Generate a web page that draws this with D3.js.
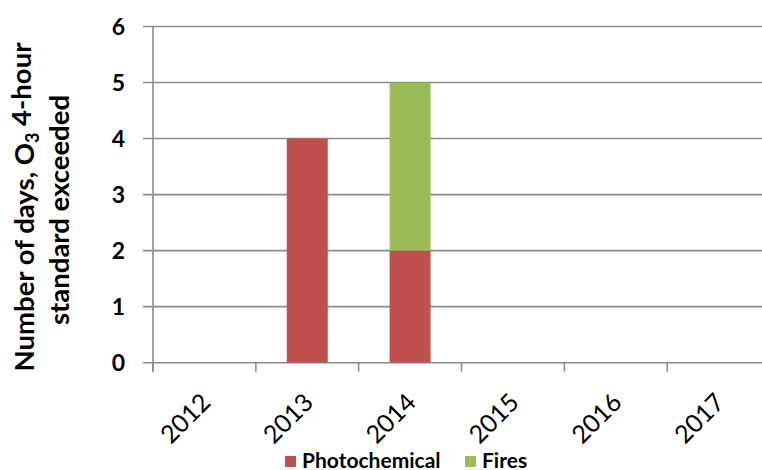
<!DOCTYPE html>
<html><head><meta charset="utf-8">
<script src="https://cdn.jsdelivr.net/npm/d3@7"></script>
<style>body{margin:0;background:#fff}svg{display:block}text{font-family:Lato,"Open Sans",sans-serif}</style>
</head><body>
<svg id="c" width="762" height="470"></svg>
<script>
const years = ["2012","2013","2014","2015","2016","2017"];
const photochemical = [0,4,2,0,0,0];
const fires = [0,0,3,0,0,0];
const seriesNames = ["Photochemical","Fires"];
const seriesColors = ["#C0504D","#9BBB59"];
const yTicks = [0,1,2,3,4,5,6];

const svg = d3.select("#c");
const W = 762;
const xb = d3.scaleBand().domain(years).range([153, 770]);
const y = d3.scaleLinear().domain([0,6]).range([362.7, 26.5]);

// gridlines
svg.append("g").selectAll("line").data(yTicks).join("line")
  .attr("x1",143).attr("x2",W).attr("y1",d=>y(d)).attr("y2",d=>y(d))
  .attr("stroke","#8C8C8C").attr("stroke-width",1.6);

// y axis line
svg.append("line").attr("x1",153).attr("x2",153).attr("y1",y(6)).attr("y2",y(0)+9)
  .attr("stroke","#8C8C8C").attr("stroke-width",1.6);

// x ticks
svg.append("g").selectAll("line").data(years).join("line")
  .attr("x1",d=>xb(d)).attr("x2",d=>xb(d)).attr("y1",y(0)).attr("y2",y(0)+9)
  .attr("stroke","#8C8C8C").attr("stroke-width",1.6);

// stacked data
const table = years.map((yr,i)=>({year:yr, Photochemical:photochemical[i], Fires:fires[i]}));
const stack = d3.stack().keys(seriesNames)(table);
const bw = 41;
svg.append("g").selectAll("g").data(stack).join("g")
  .attr("fill",(d,i)=>seriesColors[i])
  .selectAll("rect").data(d=>d.filter(p=>p[1]-p[0]>0)).join("rect")
  .attr("x",d=>xb(d.data.year)+xb.bandwidth()/2-bw/2)
  .attr("width",bw)
  .attr("y",d=>y(d[1]))
  .attr("height",d=>y(d[0])-y(d[1]));

// y tick labels
svg.append("g").selectAll("text").data(yTicks).join("text")
  .attr("x",125).attr("y",d=>y(d)).attr("dy","0.36em")
  .attr("text-anchor","end").attr("font-size",23).attr("font-weight","bold").attr("fill","#000")
  .text(d=>d);

// x tick labels
svg.append("g").selectAll("text").data(years).join("text")
  .attr("transform",d=>`translate(${xb(d)+xb.bandwidth()/2+7.5},404) rotate(-45)`)
  .attr("text-anchor","end").attr("font-size",25).attr("fill","#000")
  .text(d=>d);

// y axis title
const t = svg.append("text").attr("transform","translate(24,207) rotate(-90)")
  .attr("text-anchor","middle").attr("font-size",27.5).attr("font-weight","bold");
t.append("tspan").attr("x",0).attr("dy","0.35em").text("Number of days, O");
t.append("tspan").attr("font-size",18).attr("dy","0.3em").text("3");
t.append("tspan").attr("dy","-0.3em").attr("font-size",27.5).text(" 4-hour");
svg.append("text").attr("transform","translate(59,210) rotate(-90)")
  .attr("text-anchor","middle").attr("font-size",27.5).attr("font-weight","bold").attr("dy","0.35em")
  .text("standard exceeded");

// legend
const legX = [285, 465];
const lg = svg.append("g").selectAll("g").data(seriesNames).join("g")
  .attr("transform",(d,i)=>`translate(${legX[i]},456)`);
lg.append("rect").attr("width",11).attr("height",11).attr("fill",(d,i)=>seriesColors[i]);
lg.append("text").attr("x",17).attr("y",11.5).attr("font-size",21).attr("font-weight","bold").text(d=>d);
</script>
</body></html>
